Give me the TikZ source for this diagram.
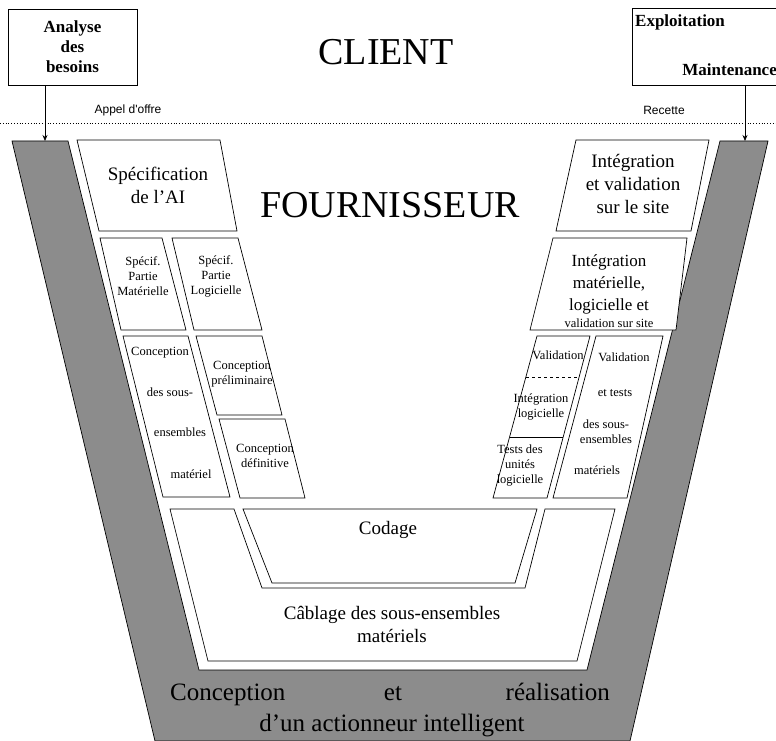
\documentclass[tikz,border=0pt]{standalone}
\usepackage{fontspec}
\setmainfont{Liberation Serif}
\newfontfamily\petitsans{Liberation Sans}
\usetikzlibrary{arrows.meta,positioning}

\begin{document}
\begin{tikzpicture}[x=1pt,y=-1pt,>={Stealth[length=6pt,width=5pt]},
 phase/.style={draw,line width=0.7pt,fill=white},
 txt/.style={align=center,inner sep=0pt,font=\fontsize{19}{23}\selectfont},
 moyen/.style={align=center,inner sep=0pt,font=\fontsize{17}{22}\selectfont},
 petit/.style={align=center,inner sep=0pt,font=\fontsize{12.5}{15}\selectfont},
 titre/.style={inner sep=0pt,font=\fontsize{38}{40}\selectfont},
 gros/.style={inner sep=0pt,font=\fontsize{25}{28}\selectfont},
 bulle/.style={draw,line width=0.7pt,align=center,
 font=\fontsize{17}{20}\selectfont\bfseries},
 renvoi/.style={inner sep=0pt,font=\petitsans\fontsize{12}{14}\selectfont}]
\useasboundingbox (0,0) rectangle (776,741);

% le V grise
\filldraw[fill=black!45,line width=0.7pt]
 (12,141) -- (155,741) -- (630,741) -- (768,141) -- (720,141)
 -- (587,670) -- (199,670) -- (68,141) -- cycle;
\draw[dotted,line width=0.8pt] (0,123) -- (776,123);

% client
\node[bulle,minimum width=129pt,minimum height=76pt] (analyse) at (72.5,47)
 {Analyse\\des\\besoins};
\node[bulle,minimum width=160pt,minimum height=77pt,anchor=north west]
 (exploit) at (632,8) {};
\node[inner sep=0pt,font=\fontsize{17}{20}\selectfont\bfseries,anchor=west]
 (exploitTxt) at (635,22) {Exploitation};
\node[inner sep=0pt,font=\fontsize{17}{20}\selectfont\bfseries,anchor=east]
 (maintTxt) at (777,70) {Maintenance};
\node[titre] (client) at (386,52) {CLIENT};
\node[renvoi] (appel) at (128,110) {Appel d'offre};
\node[renvoi] (recette) at (664,110) {Recette};
\coordinate (entreeL) at (45,141);
\coordinate (entreeR) at (745,141);
\draw[->,line width=0.7pt] (analyse.south -| entreeL) -- (entreeL);
\draw[->,line width=0.7pt] (exploit.south -| entreeR) -- (entreeR);

% fournisseur
\node[titre] (fourn) at (390,205) {FOURNISSEUR};

% branche gauche
\draw[phase] (77,140) -- (220,140) -- (237,231) -- (99,231) -- cycle;
\node[txt] (specAI) at (158,185) {Spécification\\de l’AI};
\draw[phase] (100,238) -- (162,238) -- (186,330) -- (121,330) -- cycle;
\node[petit] (specMat) at (143,276) {Spécif.\\Partie\\Matérielle};
\draw[phase] (172,238) -- (238,238) -- (262,330) -- (194,330) -- cycle;
\node[petit] (specLog) at (216,276) {Spécif.\\Partie\\Logicielle};
\draw[phase] (123,336) -- (188,336) -- (230,497) -- (163,497) -- cycle;
\node[petit] (concA) at (160,353) {Conception};
\node[petit] (concB) at (170,392) {des sous-};
\node[petit] (concC) at (180,432) {ensembles};
\node[petit] (concD) at (191,474) {matériel};
\draw[phase] (196,336) -- (262,336) -- (282,415) -- (217,415) -- cycle;
\node[petit] (concPre) at (242,374) {Conception\\préliminaire};
\draw[phase] (219,419) -- (285,419) -- (305,498) -- (240,498) -- cycle;
\node[petit] (concDef) at (265,456) {Conception\\définitive};

% branche droite
\draw[phase] (576,140) -- (709,140) -- (691,231) -- (556,231) -- cycle;
\node[txt] (integSite) at (633,184) {Intégration\\et validation\\sur le site};
\draw[phase] (553,238) -- (687,238) -- (676,330) -- (530,330) -- cycle;
\node[moyen] (integMat) at (609,284) {Intégration\\matérielle,\\logicielle et};
\node[petit,below=5pt of integMat] (integVal) {validation sur site};
\draw[phase] (537,336) -- (590,336) -- (547,498) -- (493,498) -- cycle;
\draw[dashed,line width=0.7pt] (526,377) -- (579,377);
\draw[line width=0.7pt] (510,437) -- (563,437);
\node[petit] (valLog) at (558,355) {Validation};
\node[petit] (integLog) at (541,407) {Intégration\\logicielle};
\node[petit] (testsLog) at (520,466) {Tests des\\unités\\logicielle};
\draw[phase] (596,336) -- (663,336) -- (627,498) -- (553,498) -- cycle;
\node[petit] (valA) at (624,357) {Validation};
\node[petit] (valB) at (615,393) {et tests};
\node[petit] (valC) at (606,432) {des sous-\\ensembles};
\node[petit] (valD) at (597,470) {matériels};

% fond du V
\draw[phase] (170,509) -- (234,509) -- (262,588) -- (525,588) -- (545,509)
 -- (615,509) -- (577,661) -- (208,661) -- cycle;
\draw[phase] (243,509) -- (537,509) -- (515,583) -- (272,583) -- cycle;
\node[txt] (codage) at (388,530) {Codage};
\node[txt] (cablage) at (392,624) {Câblage des sous-ensembles\\matériels};
\node[gros,anchor=base west] (realA) at (170,700) {Conception};
\node[gros,anchor=base] (realB) at (393,700) {et};
\node[gros,anchor=base east] (realC) at (610,700) {réalisation};
\node[gros,anchor=base] (realD) at (392,731) {d’un actionneur intelligent};
\end{tikzpicture}
\end{document}
